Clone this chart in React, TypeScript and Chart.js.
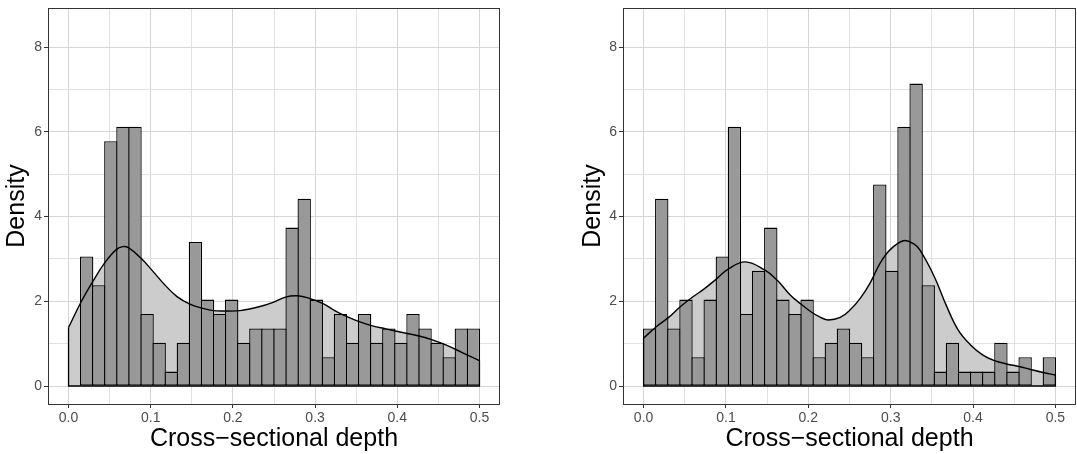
import React, { useEffect, useRef } from "react";
import { Chart, registerables } from "chart.js";

Chart.register(...registerables);

// ---------- data ----------
const BIN_COUNT = 34;
const X_MIN = 0;
const X_MAX = 0.5;

const X_MAJOR_TICKS = [0, 0.1, 0.2, 0.3, 0.4, 0.5];
const X_MINOR_TICKS = [0.05, 0.15, 0.25, 0.35, 0.45];
const Y_MAJOR_TICKS = [0, 2, 4, 6, 8];
const Y_MINOR_TICKS = [1, 3, 5, 7];

const X_TITLE = "Cross\u2212sectional depth";
const Y_TITLE = "Density";

// histogram densities (left panel)
const leftHist = [
  0, 3.06, 2.38, 5.78, 6.12, 6.12, 1.7, 1.02, 0.34, 1.02, 3.4, 2.04, 1.7, 2.04, 1.02, 1.36, 1.36,
  1.36, 3.74, 4.42, 2.04, 0.68, 1.7, 1.02, 1.7, 1.02, 1.36, 1.02, 1.7, 1.36, 1.02, 0.68, 1.36, 1.36,
];
// kernel density curve (left panel)
const leftDensX = [
  0, 0.0146, 0.0296, 0.0437, 0.058, 0.066, 0.0733, 0.088, 0.103, 0.117, 0.132, 0.147, 0.162, 0.176,
  0.19, 0.2087, 0.2318, 0.248, 0.264, 0.2787, 0.293, 0.309, 0.325, 0.3374, 0.3536, 0.3698, 0.386,
  0.402, 0.4265, 0.4427, 0.459, 0.479, 0.5,
];
const leftDensY = [
  1.38, 1.96, 2.47, 2.9, 3.22, 3.29, 3.26, 3.02, 2.7, 2.39, 2.11, 1.94, 1.84, 1.78, 1.77, 1.78, 1.87,
  1.97, 2.1, 2.13, 2.07, 1.95, 1.77, 1.65, 1.52, 1.42, 1.35, 1.28, 1.18, 1.09, 0.97, 0.79, 0.6,
];

// histogram densities (right panel)
const rightHist = [
  1.36, 4.42, 1.36, 2.04, 0.68, 2.04, 3.06, 6.12, 1.7, 2.72, 3.74, 2.04, 1.7, 2.04, 0.68, 1.02, 1.36,
  1.02, 0.68, 4.76, 2.72, 6.12, 7.14, 2.38, 0.34, 1.02, 0.34, 0.34, 0.34, 1.02, 0.34, 0.68, 0, 0.68,
];
// kernel density curve (right panel)
const rightDensX = [
  0, 0.0154, 0.0304, 0.0445, 0.0595, 0.074, 0.0886, 0.1036, 0.1234, 0.147, 0.162, 0.178, 0.19,
  0.2027, 0.2148, 0.2245, 0.2387, 0.2509, 0.263, 0.275, 0.2872, 0.2994, 0.3156, 0.3277, 0.3358,
  0.353, 0.368, 0.382, 0.397, 0.412, 0.426, 0.441, 0.456, 0.47, 0.485, 0.5,
];
const rightDensY = [
  1.13, 1.4, 1.62, 1.87, 2.1, 2.3, 2.53, 2.77, 2.93, 2.74, 2.5, 2.15, 1.95, 1.76, 1.62, 1.56, 1.62,
  1.8, 2.07, 2.43, 2.9, 3.22, 3.43, 3.36, 3.2, 2.58, 1.88, 1.32, 0.97, 0.73, 0.6, 0.52, 0.46, 0.39,
  0.32, 0.26,
];

// ---------- styling ----------
const FONT = "'Liberation Sans', Arial, Helvetica, sans-serif";
const GRID_MAJOR = "#d6d6d6";
const GRID_MINOR = "#e2e2e2";
const FRAME = "#333333";
const TICK_TEXT = "#4d4d4d";

const isIn = (arr: number[], v: number) => arr.some((m) => Math.abs(m - v) < 1e-9);

type PanelProps = {
  hist: number[];
  densX: number[];
  densY: number[];
  left: number;
  width: number;
  padLeft: number;
  padRight: number;
  yAxisWidth: number;
};

function Panel({ hist, densX, densY, left, width, padLeft, padRight, yAxisWidth }: PanelProps) {
  const ref = useRef<HTMLCanvasElement | null>(null);

  useEffect(() => {
    if (!ref.current) return;
    const binW = (X_MAX - X_MIN) / BIN_COUNT;
    const barData = hist.map((v, i) => ({ x: X_MIN + (i + 0.5) * binW, y: v }));
    const densData = densX.map((x, i) => ({ x, y: densY[i] }));

    const framePlugin = {
      id: "frame",
      afterDatasetsDraw(chart: any) {
        const ctx = chart.ctx;
        const meta = chart.getDatasetMeta(2);
        const pts = meta.data;
        if (pts.length) {
          const y0 = chart.scales.y.getPixelForValue(0);
          const first = pts[0];
          const last = pts[pts.length - 1];
          ctx.save();
          ctx.strokeStyle = "#000";
          ctx.lineWidth = 1.3;
          ctx.beginPath();
          ctx.moveTo(first.x, first.y);
          ctx.lineTo(first.x, y0);
          ctx.lineTo(last.x, y0);
          ctx.lineTo(last.x, last.y);
          ctx.stroke();
          ctx.restore();
        }
      },
      afterDraw(chart: any) {
        const { left: l, right: r, top: t, bottom: b } = chart.chartArea;
        const ctx = chart.ctx;
        ctx.save();
        ctx.strokeStyle = FRAME;
        ctx.lineWidth = 1;
        ctx.strokeRect(Math.round(l) + 0.5, Math.round(t) + 0.5, Math.round(r - l) - 1, Math.round(b - t));
        ctx.restore();
      },
    };

    const chart = new Chart(ref.current, {
      type: "bar",
      data: {
        datasets: [
          {
            type: "line",
            data: densData,
            borderWidth: 0,
            borderColor: "rgba(0,0,0,0)",
            backgroundColor: "#cccccc",
            fill: "origin",
            pointRadius: 0,
            tension: 0.4,
            order: 2,
          } as any,
          {
            type: "bar",
            data: barData,
            backgroundColor: "#999999",
            borderColor: "#000000",
            borderWidth: 1.3,
            borderSkipped: false,
            barPercentage: 1 + 1.3 / 12.12,
            categoryPercentage: 1,
            order: 1,
          } as any,
          {
            type: "line",
            data: densData,
            borderWidth: 1.4,
            borderColor: "#000000",
            fill: false,
            pointRadius: 0,
            tension: 0.4,
            order: 0,
          } as any,
        ],
      },
      options: {
        animation: false,
        responsive: false,
        devicePixelRatio: 1,
        layout: { padding: { left: padLeft, right: padRight, top: 8, bottom: 0 } },
        plugins: { legend: { display: false }, tooltip: { enabled: false } },
        scales: {
          x: {
            type: "linear",
            min: -0.025,
            max: 0.525,
            offset: false,
            afterBuildTicks: (axis: any) => {
              axis.ticks = [...X_MAJOR_TICKS, ...X_MINOR_TICKS]
                .sort((a, b) => a - b)
                .map((v) => ({ value: v }));
            },
            afterFit: (axis: any) => {
              axis.height = 50;
              axis.paddingLeft = 0;
              axis.paddingRight = 0;
            },
            ticks: {
              autoSkip: false,
              maxRotation: 0,
              padding: 2,
              color: TICK_TEXT,
              font: { family: FONT, size: 14 },
              callback: (v: any) => (isIn(X_MAJOR_TICKS, Number(v)) ? Number(v).toFixed(1) : ""),
            },
            grid: {
              offset: false,
              color: (c: any) => (isIn(X_MAJOR_TICKS, c.tick?.value) ? GRID_MAJOR : GRID_MINOR),
              lineWidth: 1,
              drawTicks: true,
              tickLength: 4,
              tickWidth: 1,
              tickColor: (c: any) => (isIn(X_MAJOR_TICKS, c.tick?.value) ? FRAME : "rgba(0,0,0,0)"),
            },
            border: { display: false },
            title: {
              display: true,
              text: X_TITLE,
              color: "#000",
              font: { family: FONT, size: 25 },
              padding: { top: 0, bottom: 0 },
            },
          },
          y: {
            type: "linear",
            min: -0.425,
            max: 8.925,
            afterBuildTicks: (axis: any) => {
              axis.ticks = [...Y_MAJOR_TICKS, ...Y_MINOR_TICKS]
                .sort((a, b) => a - b)
                .map((v) => ({ value: v }));
            },
            afterFit: (axis: any) => {
              axis.width = yAxisWidth;
              axis.paddingTop = 0;
              axis.paddingBottom = 0;
            },
            ticks: {
              autoSkip: false,
              padding: 2,
              color: TICK_TEXT,
              font: { family: FONT, size: 14 },
              callback: (v: any) => (isIn(Y_MAJOR_TICKS, Number(v)) ? String(v) : ""),
            },
            grid: {
              color: (c: any) => (isIn(Y_MAJOR_TICKS, c.tick?.value) ? GRID_MAJOR : GRID_MINOR),
              lineWidth: 1,
              drawTicks: true,
              tickLength: 4,
              tickWidth: 1,
              tickColor: (c: any) => (isIn(Y_MAJOR_TICKS, c.tick?.value) ? FRAME : "rgba(0,0,0,0)"),
            },
            border: { display: false },
            title: {
              display: true,
              text: Y_TITLE,
              color: "#000",
              font: { family: FONT, size: 25 },
              padding: { top: 0, bottom: 0 },
            },
          },
        },
      } as any,
      plugins: [framePlugin],
    });

    return () => chart.destroy();
  }, [hist, densX, densY, padLeft, padRight, yAxisWidth]);

  return (
    <div style={{ position: "absolute", left, top: 0, width, height: 454 }}>
      <canvas ref={ref} width={width} height={454} style={{ display: "block" }} />
    </div>
  );
}

export default function App() {
  return (
    <div
      style={{
        position: "fixed",
        left: 0,
        top: 0,
        width: 1077,
        height: 454,
        background: "#ffffff",
        overflow: "hidden",
      }}
    >
      <Panel
        hist={leftHist}
        densX={leftDensX}
        densY={leftDensY}
        left={0}
        width={538}
        padLeft={2}
        padRight={38}
        yAxisWidth={46}
      />
      <Panel
        hist={rightHist}
        densX={rightDensX}
        densY={rightDensY}
        left={538}
        width={539}
        padLeft={40}
        padRight={1}
        yAxisWidth={45}
      />
    </div>
  );
}
